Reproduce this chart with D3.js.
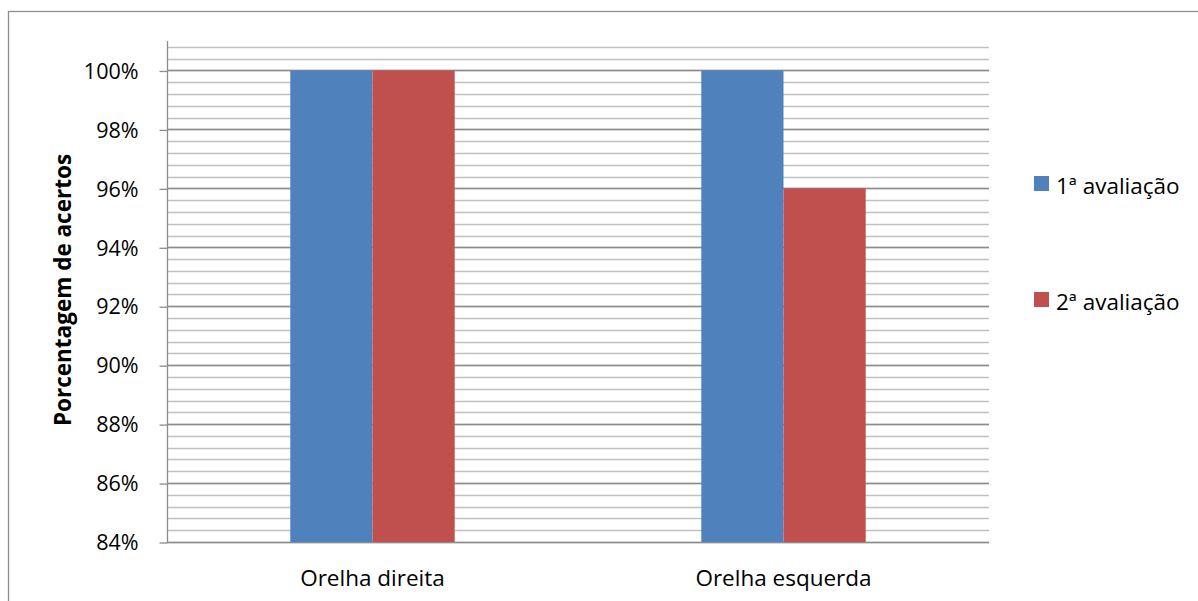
<!DOCTYPE html>
<html>
<head>
<meta charset="utf-8">
<script src="https://cdn.jsdelivr.net/npm/d3@7/dist/d3.min.js"></script>
<style>
  html, body { margin: 0; padding: 0; background: #ffffff; }
  svg { display: block; }
  text { font-family: "Open Sans", "Noto Sans", sans-serif; fill: #000; }
</style>
</head>
<body>
<div id="chart"></div>
<script>
// Categories, series and values (share of correct answers)
const categories = ["Orelha direita", "Orelha esquerda"];
const seriesNames = ["1ª avaliação", "2ª avaliação"];
const seriesColors = ["#4F81BD", "#C0504D"];
const avaliacao1 = [1.00, 1.00];
const avaliacao2 = [1.00, 0.96];
const yTickValues = [0.84, 0.86, 0.88, 0.90, 0.92, 0.94, 0.96, 0.98, 1.00];
const yTitle = "Porcentagem de acertos";

const width = 1198, height = 601;
const plot = { left: 167, right: 989, top: 41, bottom: 542 };
const fontFamily = '"Open Sans", "Noto Sans", sans-serif';
const labelSize = 22.5;
const tickSize = 21.5;

const svg = d3.select("#chart").append("svg")
  .attr("width", width).attr("height", height);

// Outer chart frame
svg.append("rect")
  .attr("x", 8.5).attr("y", 11.5)
  .attr("width", 1300).attr("height", 700)
  .attr("fill", "#fff").attr("stroke", "#8c8c8c").attr("stroke-width", 1.3);

const y = d3.scaleLinear().domain([0.84, 1.01]).range([plot.bottom, plot.top]);
const x0 = d3.scaleBand().domain(categories).range([plot.left, plot.right]).paddingInner(0).paddingOuter(0);
const x1 = d3.scaleBand().domain(seriesNames)
  .range([x0.bandwidth() * 0.3, x0.bandwidth() * 0.7]).padding(0);

// Minor gridlines every 0.4%
const minorTicks = d3.range(0, 43).map(i => 0.84 + i * 0.004).filter(v => v <= 1.0101);
svg.append("g").selectAll("line").data(minorTicks).join("line")
  .attr("x1", plot.left).attr("x2", plot.right)
  .attr("y1", d => Math.round(y(d)) + 0.5).attr("y2", d => Math.round(y(d)) + 0.5)
  .attr("stroke", "#c0c0c0").attr("stroke-width", 1.3);

// Major gridlines every 2%
svg.append("g").selectAll("line").data(yTickValues).join("line")
  .attr("x1", plot.left).attr("x2", plot.right)
  .attr("y1", d => Math.round(y(d)) + 0.5).attr("y2", d => Math.round(y(d)) + 0.5)
  .attr("stroke", "#8c8c8c").attr("stroke-width", 1.3);

// Bars
const rows = categories.map((c, i) => ({ cat: c, vals: [avaliacao1[i], avaliacao2[i]] }));
const groups = svg.append("g").selectAll("g").data(rows).join("g")
  .attr("transform", d => `translate(${x0(d.cat)},0)`);
groups.selectAll("rect").data(d => d.vals.map((v, j) => ({ v, s: seriesNames[j], j })))
  .join("rect")
  .attr("x", d => x1(d.s))
  .attr("width", x1.bandwidth())
  .attr("y", d => y(d.v))
  .attr("height", d => y(0.84) - y(d.v))
  .attr("fill", d => seriesColors[d.j]);

// Y axis
const yAxis = d3.axisLeft(y).tickValues(yTickValues)
  .tickFormat(d3.format(".0%")).tickSize(8).tickPadding(21);
const yg = svg.append("g").attr("transform", `translate(${plot.left + 0.5},0)`).call(yAxis);
yg.select(".domain").remove();
yg.selectAll(".tick line").attr("stroke", "#8c8c8c").attr("stroke-width", 1.3)
  .attr("transform", "translate(0,0.5)");
yg.selectAll(".tick text").attr("font-size", tickSize).attr("font-family", fontFamily)
  .attr("fill", "#000").attr("dy", "0.36em");
svg.append("line")
  .attr("x1", plot.left + 0.5).attr("x2", plot.left + 0.5)
  .attr("y1", plot.top).attr("y2", Math.round(y(0.84)) + 0.5)
  .attr("stroke", "#8c8c8c").attr("stroke-width", 1.3);

// X axis labels
svg.append("g").selectAll("text").data(categories).join("text")
  .attr("x", d => x0(d) + x0.bandwidth() / 2)
  .attr("y", 586)
  .attr("text-anchor", "middle")
  .attr("font-size", labelSize)
  .text(d => d);

// Y axis title
svg.append("text")
  .attr("transform", `translate(71,290) rotate(-90)`)
  .attr("text-anchor", "middle")
  .attr("font-size", labelSize)
  .attr("font-weight", "bold")
  .text(yTitle);

// Legend
const legendY = [183.5, 299.5];
const lg = svg.append("g").selectAll("g").data(seriesNames).join("g")
  .attr("transform", (d, i) => `translate(1034,${legendY[i]})`);
lg.append("rect").attr("x", 0).attr("y", -7.5).attr("width", 15).attr("height", 15)
  .attr("fill", (d, i) => seriesColors[i]);
lg.append("text").attr("x", 22).attr("y", 2).attr("dy", "0.36em")
  .attr("font-size", labelSize).text(d => d);
</script>
</body>
</html>
